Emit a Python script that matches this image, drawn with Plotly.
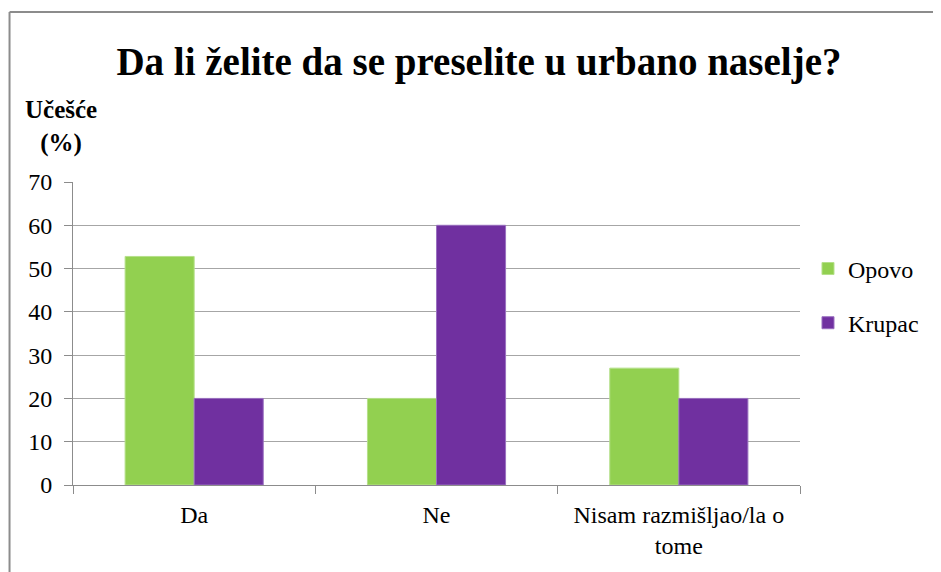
import plotly.graph_objects as go

categories = ["Da", "Ne", "Nisam razmišljao/la o<br>tome"]
opovo = [52.8, 20, 27]
krupac = [20, 60, 20]
series_names = ["Opovo", "Krupac"]
y_ticks = [0, 10, 20, 30, 40, 50, 60, 70]

SERIF = "Times New Roman, Liberation Serif, serif"

fig = go.Figure()
fig.add_trace(go.Bar(name=series_names[0], x=categories, y=opovo, legendgroup="a",
                     marker=dict(color="#92D050", line=dict(color="#B5E08A", width=1))))
fig.add_trace(go.Bar(name=series_names[1], x=categories, y=krupac, legendgroup="b",
                     marker=dict(color="#7030A0", line=dict(color="#9A70C0", width=1))))

fig.update_layout(
    width=941, height=572,
    paper_bgcolor="white", plot_bgcolor="white",
    margin=dict(l=65, r=149, t=174, b=95),
    barmode="group", bargap=0.43, bargroupgap=0,
    font=dict(family=SERIF, size=24, color="black"),
    title=dict(text="<b>Da li želite da se preselite u urbano naselje?</b>",
               x=0.5005, xanchor="center", y=0.906, yanchor="middle",
               font=dict(family=SERIF, size=39, color="black")),
    legend=dict(x=1.011, y=0.624, xanchor="left", yanchor="middle",
                font=dict(family=SERIF, size=24), tracegroupgap=20,
                itemwidth=30, bgcolor="rgba(0,0,0,0)"),
    xaxis=dict(type="category", showgrid=False, showline=True, linecolor="#8c8c8c",
               linewidth=1, ticks="outside", tickson="boundaries", ticklen=8,
               tickcolor="#8c8c8c", ticklabelstandoff=8,
               tickfont=dict(family=SERIF, size=24)),
    yaxis=dict(range=[0, 70], tickvals=y_ticks, showgrid=True, gridcolor="#a6a6a6",
               gridwidth=1, showline=True, linecolor="#8c8c8c", linewidth=1,
               ticks="outside", ticklen=8, tickcolor="#8c8c8c", ticklabelstandoff=7,
               tickfont=dict(family=SERIF, size=24), zeroline=False),
    annotations=[dict(text="<b>Učešće<br>(%)</b>", xref="paper", yref="paper",
                      x=-0.0165, y=1.075, xanchor="center", yanchor="bottom",
                      showarrow=False, align="center",
                      font=dict(family=SERIF, size=25, color="black"))],
    shapes=[
        dict(type="line", xref="paper", yref="paper", x0=-0.0873, x1=-0.0873,
             y0=1.561, y1=-0.4, line=dict(color="#8c8c8c", width=2)),
        dict(type="line", xref="paper", yref="paper", x0=-0.0873, x1=1.3,
             y0=1.561, y1=1.561, line=dict(color="#8c8c8c", width=2)),
    ],
)

fig.write_html("out.html")
